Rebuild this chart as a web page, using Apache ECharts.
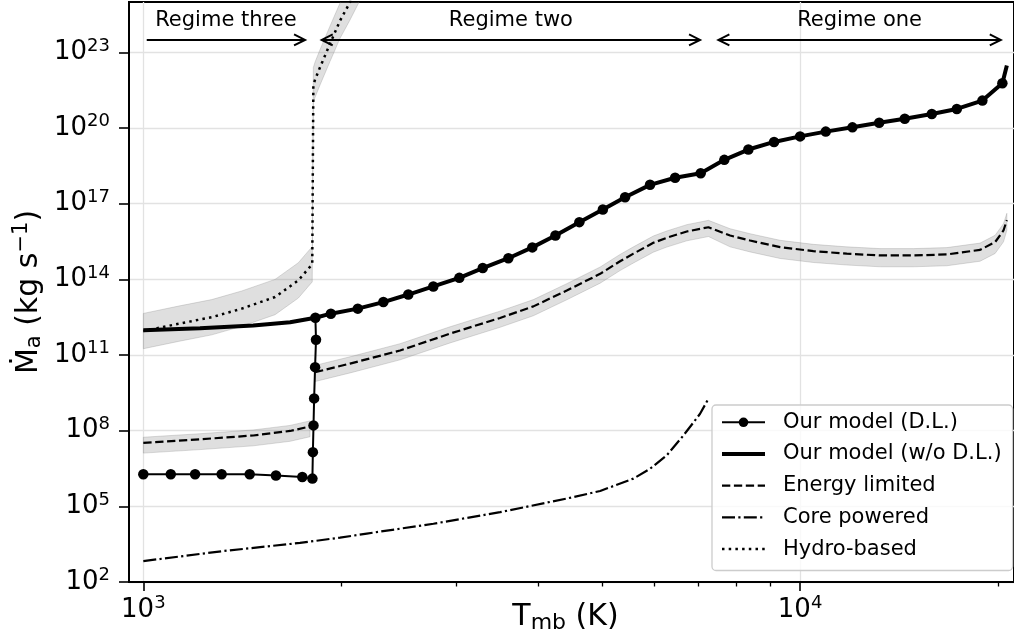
<!DOCTYPE html>
<html>
<head>
<meta charset="utf-8">
<script src="https://cdn.jsdelivr.net/npm/echarts@6/dist/echarts.min.js"></script>
<style>
html,body{margin:0;padding:0;background:#ffffff;}
#chart{width:1014px;height:641px;}
</style>
</head>
<body>
<div id="chart"></div>
<script>
const FONT = 'DejaVu Sans';

// ---------- data (T_mb in K, mass-loss rate in kg/s) ----------
const tDL = [1000, 1101, 1199, 1316, 1452, 1592, 1746, 1809,
  1812, 1816, 1820, 1826, 1832, 1828,
  1930, 2121, 2320, 2532, 2764, 3028, 3287, 3596, 3911, 4241,
  4612, 5008, 5414, 5909, 6452, 7058,
  7667, 8342, 9128, 10000, 10942, 12014, 13196, 14434, 15870, 17324, 18948, 20324];
const mDL = [1.86e6, 1.86e6, 1.86e6, 1.86e6, 1.86e6, 1.66e6, 1.45e6, 1.26e6,
  1.41e7, 1.62e8, 1.91e9, 3.31e10, 4.07e11, 3.02e12,
  4.37e12, 6.92e12, 1.26e13, 2.51e13, 5.25e13, 1.15e14, 2.82e14, 6.92e14, 1.86e15, 5.50e15,
  1.86e16, 5.89e16, 1.82e17, 5.62e17, 1.07e18, 1.62e18,
  5.50e18, 1.41e19, 2.82e19, 4.68e19, 7.24e19, 1.07e20, 1.62e20, 2.34e20, 3.63e20, 5.75e20, 1.23e21, 6.03e21];

const tNoDL = [1000, 1220, 1470, 1673, 1828,
  1930, 2121, 2320, 2532, 2764, 3028, 3287, 3596, 3911, 4241,
  4612, 5008, 5414, 5909, 6452, 7058,
  7667, 8342, 9128, 10000, 10942, 12014, 13196, 14434, 15870, 17324, 18948, 20324, 20646];
const mNoDL = [9.55e11, 1.15e12, 1.48e12, 2.00e12, 3.02e12,
  4.37e12, 6.92e12, 1.26e13, 2.51e13, 5.25e13, 1.15e14, 2.82e14, 6.92e14, 1.86e15, 5.50e15,
  1.86e16, 5.89e16, 1.82e17, 5.62e17, 1.07e18, 1.62e18,
  5.50e18, 1.41e19, 2.82e19, 4.68e19, 7.24e19, 1.07e20, 1.62e20, 2.34e20, 3.63e20, 5.75e20, 1.23e21, 6.03e21, 3.02e22];

// Energy limited, low-temperature branch and main branch
const tEL1 = [1000, 1220, 1470, 1673, 1794];
const mEL1 = [3.31e7, 4.57e7, 6.46e7, 9.77e7, 1.48e8];
const upEL1 = [5.50e7, 7.59e7, 1.07e8, 1.62e8, 2.45e8];
const loEL1 = [1.29e7, 1.78e7, 2.51e7, 3.80e7, 5.75e7];

const tEL2 = [1826, 2064, 2460, 2931, 3493, 3926, 4413, 4961, 5320, 5575, 5978, 6266, 6722, 7253,
  7824, 8392, 9323, 10477, 11779, 13238, 14877, 16728, 18797, 19816, 20404, 20646];
const mEL2 = [2.09e10, 4.57e10, 1.51e11, 7.08e11, 2.95e12, 8.51e12, 3.63e13, 1.66e14, 5.25e14, 1.05e15, 2.82e15, 4.47e15, 7.94e15, 1.17e16,
  5.50e15, 3.47e15, 1.91e15, 1.32e15, 1.05e15, 8.91e14, 8.91e14, 9.77e14, 1.48e15, 3.02e15, 8.71e15, 2.24e16];
const upEL2 = [3.89e10, 8.51e10, 2.82e11, 1.32e12, 5.50e12, 1.58e13, 6.76e13, 3.09e14, 9.77e14, 1.95e15, 5.25e15, 8.32e15, 1.48e16, 2.19e16,
  1.02e16, 6.46e15, 3.55e15, 2.45e15, 1.95e15, 1.66e15, 1.66e15, 1.82e15, 2.75e15, 5.62e15, 1.62e16, 4.17e16];
const loEL2 = [8.91e9, 1.95e10, 6.46e10, 3.02e11, 1.26e12, 3.63e12, 1.55e13, 7.08e13, 2.24e14, 4.47e14, 1.20e15, 1.91e15, 3.39e15, 5.01e15,
  1.95e15, 1.23e15, 6.76e14, 4.68e14, 3.72e14, 3.16e14, 3.16e14, 3.47e14, 5.25e14, 1.07e15, 3.09e15, 8.91e15];

// Core powered
const tCore = [1000, 1316, 1732, 1993, 2189, 2765, 3493, 4413, 4961, 5575, 5909, 6266, 6643, 7042, 7253];
const mCore = [676, 1660, 3550, 5750, 8320, 2.04e4, 5.89e4, 2.04e5, 4.07e5, 1.26e6, 3.09e6, 1.05e7, 6.46e7, 4.68e8, 1.86e9];

// Hydro-based
const tHydro = [1000, 1131, 1271, 1412, 1587, 1722, 1783, 1808, 1815, 1826, 1858, 1924, 1993, 2064, 2150];
const mHydro = [8.91e11, 1.74e12, 3.16e12, 6.92e12, 2.00e13, 9.12e13, 2.63e14, 3.98e14, 5.01e21, 8.32e21, 2.57e22, 2.19e23, 1.82e24, 9.77e24, 7.94e25];
const upHydro = [4.47e12, 8.71e12, 1.58e13, 3.47e13, 1.00e14, 4.57e14, 1.32e15, 2.00e15, 2.51e22, 4.17e22, 1.29e23, 1.10e24, 9.12e24, 4.90e25, 3.98e26];
const loHydro = [1.78e11, 3.47e11, 6.31e11, 1.38e12, 3.98e12, 1.82e13, 5.25e13, 7.94e13, 1.00e21, 1.66e21, 5.13e21, 4.37e22, 3.63e23, 1.95e24, 1.58e25];

// Regime annotations
const regimeNames = ['Regime three', 'Regime two', 'Regime one'];
const regimeFrom = [1012, 1869, 7509];
const regimeTo = [1763, 7042, 20212];
const regimeHeads = ['end', 'both', 'both'];
const regimeArrowM = 3.14e23;
const regimeTextM = 1.92e24;

// Axes
const xMin = 951, xMax = 21170;
const yMin = 1e2, yMax = 1e25;
const xMajorTicks = [1000, 10000];
const xMinorTicks = [2000, 3000, 4000, 5000, 6000, 7000, 8000, 9000, 20000];
const yMajorTicks = [1e2, 1e5, 1e8, 1e11, 1e14, 1e17, 1e20, 1e23];

const legendNames = ['Our model (D.L.)', 'Our model (w/o D.L.)', 'Energy limited', 'Core powered', 'Hydro-based'];

// ---------- helpers ----------
function pairs(t, m) { return t.map((x, i) => [x, m[i]]); }
function powLabel(v) {
  const e = Math.round(Math.log10(v));
  return '{b|10}{s|' + e + '}';
}
const tickRich = {
  b: {fontSize: 26, fontFamily: FONT, color: '#000', lineHeight: 30},
  s: {fontSize: 18, fontFamily: FONT, color: '#000', lineHeight: 18, padding: [0, 0, 13, 0]}
};
function bandSeries(t, lo, up) {
  return {
    type: 'custom', silent: true, clip: true, z: 1,
    data: t.map((x, i) => [x, lo[i], up[i]]),
    encode: {x: 0, y: [1, 2]},
    renderItem: function (params, api) {
      if (params.dataIndex !== 0) return;
      const pts = [];
      for (let i = 0; i < t.length; i++) pts.push(api.coord([t[i], up[i]]));
      for (let i = t.length - 1; i >= 0; i--) pts.push(api.coord([t[i], lo[i]]));
      return {
        type: 'polygon', shape: {points: pts},
        style: {fill: 'rgba(128,128,128,0.25)', stroke: 'rgba(128,128,128,0.28)', lineWidth: 1}
      };
    }
  };
}

const chart = echarts.init(document.getElementById('chart'), null, {renderer: 'canvas'});
const option = {
  animation: false,
  backgroundColor: '#ffffff',
  grid: {left: 129, right: 0, top: 2, bottom: 59, show: true, borderColor: '#000', borderWidth: 2,
    containLabel: false, outerBoundsMode: 'none'},
  legend: {
    orient: 'vertical', left: 712, top: 405,
    data: legendNames.map((n, i) => i === 0 ? {name: n} : {name: n, itemStyle: {opacity: 0}}),
    itemWidth: 43, itemHeight: 12, itemGap: 9.7,
    padding: [6.3, 11, 10.4, 8],
    backgroundColor: 'rgba(255,255,255,0.8)', borderColor: '#cccccc', borderWidth: 1.3, borderRadius: 4,
    textStyle: {fontSize: 21, fontFamily: FONT, color: '#000', padding: [0, 0, 0, 13], lineHeight: 22},
    lineStyle: {width: 'inherit'},
    selectedMode: false
  },
  xAxis: [{
    type: 'log', logBase: 10, min: xMin, max: xMax, position: 'bottom',
    axisLine: {show: true, lineStyle: {color: '#000', width: 2}},
    axisTick: {show: true, customValues: xMajorTicks, length: 9, lineStyle: {color: '#000', width: 1.6}},
    axisLabel: {customValues: xMajorTicks, formatter: powLabel, rich: tickRich, margin: 13},
    splitLine: {show: true, lineStyle: {color: '#e2e2e2', width: 1.3}},
    name: '{t|T}{s|mb}{t| (K)}', nameLocation: 'middle', nameGap: 18, nameMoveOverlap: false,
    nameTextStyle: {padding: [0, 12, 0, 0], rich: {
      t: {fontSize: 30, fontFamily: FONT, color: '#000', lineHeight: 34},
      s: {fontSize: 22, fontFamily: FONT, color: '#000', lineHeight: 22, padding: [12, 0, 0, 0]}
    }}
  }, {
    type: 'log', logBase: 10, min: xMin, max: xMax, position: 'bottom', gridIndex: 0,
    axisLine: {show: false}, axisLabel: {show: false}, splitLine: {show: false},
    axisTick: {show: true, customValues: xMinorTicks, length: 4.5, lineStyle: {color: '#000', width: 1.3}}
  }],
  yAxis: {
    type: 'log', logBase: 10, min: yMin, max: yMax,
    axisLine: {show: true, lineStyle: {color: '#000', width: 2}},
    axisTick: {show: true, customValues: yMajorTicks, length: 10, lineStyle: {color: '#000', width: 1.6}},
    axisLabel: {customValues: yMajorTicks, formatter: powLabel, rich: tickRich, margin: 19},
    splitLine: {show: true, lineStyle: {color: '#e2e2e2', width: 1.3}},
    name: '{t|\u1E40}{s|a}{t| (kg s}{p|\u22121}{t|)}', nameLocation: 'middle', nameGap: 83, nameMoveOverlap: false,
    nameTextStyle: {rich: {
      t: {fontSize: 30, fontFamily: FONT, color: '#000', lineHeight: 34},
      s: {fontSize: 21, fontFamily: FONT, color: '#000', lineHeight: 21, padding: [12, 0, 0, 0]},
      p: {fontSize: 21, fontFamily: FONT, color: '#000', lineHeight: 21, padding: [0, 0, 14, 0]}
    }}
  },
  series: [
    bandSeries(tHydro, loHydro, upHydro),
    bandSeries(tEL1, loEL1, upEL1),
    bandSeries(tEL2, loEL2, upEL2),
    {
      name: 'Core powered', type: 'line', data: pairs(tCore, mCore), symbol: 'none', silent: true, z: 3,
      lineStyle: {color: '#000', width: 2.2, type: [13, 3.3, 2.2, 3.3]}, itemStyle: {color: '#000'}
    },
    {
      name: 'Energy limited', type: 'line', data: pairs(tEL1, mEL1), symbol: 'none', silent: true, z: 3,
      lineStyle: {color: '#000', width: 2.2, type: [8.3, 3.6]}, itemStyle: {color: '#000'}
    },
    {
      name: 'Energy limited', type: 'line', data: pairs(tEL2, mEL2), symbol: 'none', silent: true, z: 3,
      lineStyle: {color: '#000', width: 2.2, type: [8.3, 3.6]}, itemStyle: {color: '#000'}
    },
    {
      name: 'Hydro-based', type: 'line', data: pairs(tHydro, mHydro), symbol: 'none', silent: true, z: 3,
      lineStyle: {color: '#000', width: 2.5, type: [2.5, 4.2]}, itemStyle: {color: '#000'}
    },
    {
      name: 'Our model (w/o D.L.)', type: 'line', data: pairs(tNoDL, mNoDL), symbol: 'none', silent: true, z: 4,
      lineStyle: {color: '#000', width: 4}, itemStyle: {color: '#000'}
    },
    {
      name: 'Our model (D.L.)', type: 'line', data: pairs(tDL, mDL), symbol: 'circle', symbolSize: 10.5,
      showSymbol: true, silent: true, z: 5,
      lineStyle: {color: '#000', width: 2}, itemStyle: {color: '#000'}
    },
    {
      type: 'custom', silent: true, z: 6, clip: false,
      data: regimeNames.map((n, i) => [regimeFrom[i], regimeTo[i], regimeArrowM, regimeTextM]),
      encode: {x: [0, 1], y: [2, 3]},
      renderItem: function (params, api) {
        const i = params.dataIndex;
        const p1 = api.coord([api.value(0), api.value(2)]);
        const p2 = api.coord([api.value(1), api.value(2)]);
        const pt = api.coord([api.value(0), api.value(3)]);
        const y = p1[1];
        const hl = 11, hw = 5.5;
        const st = {stroke: '#000', lineWidth: 2, fill: 'none'};
        const children = [{type: 'line', shape: {x1: p1[0], y1: y, x2: p2[0], y2: y}, style: {stroke: '#000', lineWidth: 2}}];
        if (regimeHeads[i] === 'both') {
          children.push({type: 'polyline', shape: {points: [[p1[0] + hl, y - hw], [p1[0], y], [p1[0] + hl, y + hw]]}, style: st});
        }
        children.push({type: 'polyline', shape: {points: [[p2[0] - hl, y - hw], [p2[0], y], [p2[0] - hl, y + hw]]}, style: st});
        children.push({type: 'text', style: {text: regimeNames[i], x: (p1[0] + p2[0]) / 2, y: pt[1],
          align: 'center', verticalAlign: 'middle', textAlign: 'center', textVerticalAlign: 'middle',
          fontSize: 21, fontFamily: FONT, fill: '#000'}});
        return {type: 'group', children: children};
      }
    }
  ]
};
chart.setOption(option);
</script>
</body>
</html>
